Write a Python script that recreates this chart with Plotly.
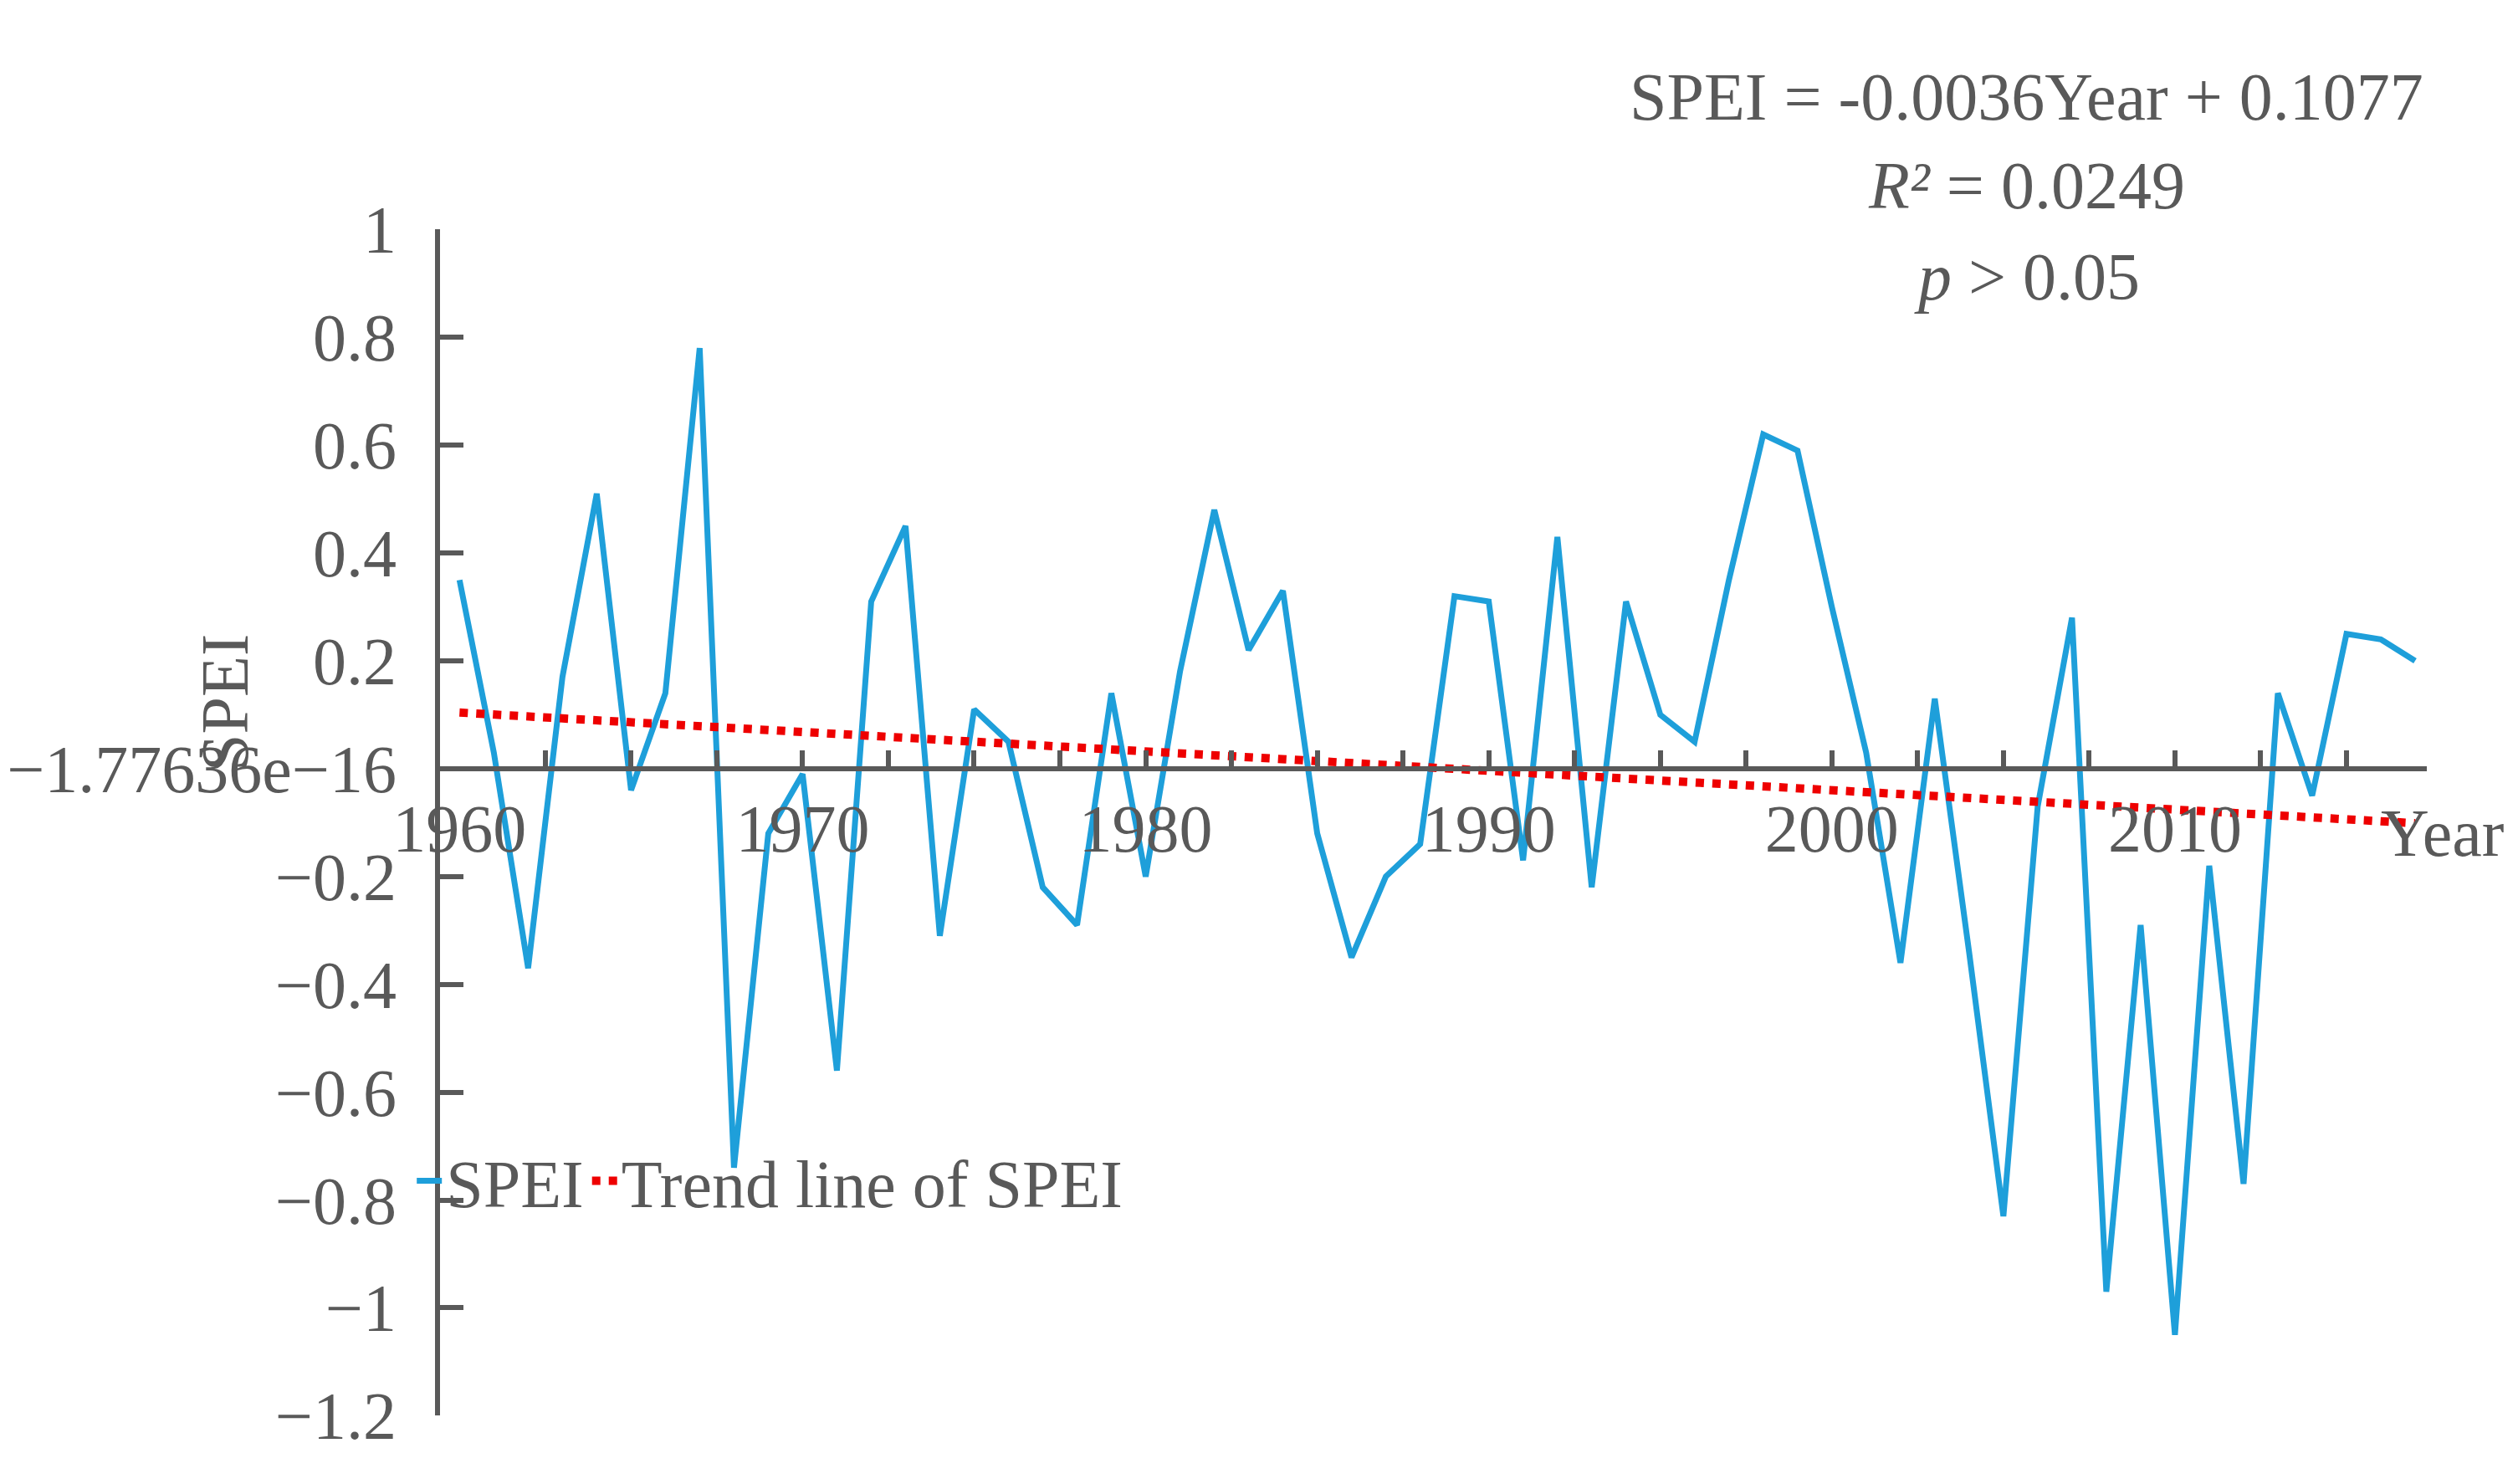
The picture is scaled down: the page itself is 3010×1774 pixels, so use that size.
import plotly.graph_objects as go

years = list(range(1960, 2018))
spei = [0.35, 0.03, -0.37, 0.17, 0.51, -0.04, 0.14, 0.78, -0.74, -0.12,
        -0.01, -0.56, 0.31, 0.45, -0.31, 0.11, 0.05, -0.22, -0.29, 0.14,
        -0.20, 0.18, 0.48, 0.22, 0.33, -0.12, -0.35, -0.20, -0.14, 0.32,
        0.31, -0.17, 0.43, -0.22, 0.31, 0.10, 0.05, 0.35, 0.62, 0.59,
        0.30, 0.03, -0.36, 0.13, -0.34, -0.83, -0.07, 0.28, -0.97, -0.29,
        -1.05, -0.18, -0.77, 0.14, -0.05, 0.25, 0.24, 0.20]
slope, intercept = -0.0036, 0.1077
trend = [slope * (i + 1) + intercept for i in range(len(years))]

gray = "#595959"
font = "Liberation Serif"
fs = 80

fig = go.Figure()
fig.add_trace(go.Scatter(x=years, y=spei, mode="lines", name="SPEI",
                         line=dict(color="#1E9FDA", width=7)))
fig.add_trace(go.Scatter(x=years, y=trend, mode="lines", name="Trend line of SPEI",
                         line=dict(color="#EE0000", width=10, dash="dot")))
fig.add_trace(go.Scatter(x=[1960], y=[0], xaxis="x2", mode="markers",
                         marker=dict(opacity=0), showlegend=False, hoverinfo="skip"))

ydom = [0.0265, 0.8675]
ypos0 = ydom[0] + (1.2 / 2.2) * (ydom[1] - ydom[0])
fig.update_layout(
    width=3010, height=1774, paper_bgcolor="white", plot_bgcolor="white",
    margin=dict(l=0, r=0, t=0, b=0),
    font=dict(family=font, size=fs, color=gray),
    xaxis=dict(domain=[0.1166, 0.9585], range=[1959.43, 2017.34], anchor="free",
               position=ypos0, showline=True, linecolor=gray, linewidth=6,
               tickvals=list(range(1960, 2020, 10)), ticks="", showgrid=False,
               zeroline=False, tickfont=dict(size=fs, color=gray)),
    xaxis2=dict(overlaying="x", matches="x", anchor="free", position=ypos0,
                tickvals=[1962.5 + 2.5 * k for k in range(23)], ticks="inside",
                ticklen=22, tickwidth=6, tickcolor=gray, showticklabels=False,
                showgrid=False, zeroline=False, domain=[0.1166, 0.9585]),
    yaxis=dict(domain=ydom, range=[-1.2, 1], dtick=0.2, showline=True,
               linecolor=gray, linewidth=6, ticks="inside", ticklen=28,
               tickwidth=6, tickcolor=gray, showgrid=False, zeroline=False,
               tickformat="~g", ticklabelstandoff=30,
               tickfont=dict(size=fs, color=gray)),
    showlegend=True,
    legend=dict(orientation="h", x=0.105, y=0.193, xanchor="left", yanchor="middle",
                font=dict(size=fs, color=gray), bgcolor="rgba(0,0,0,0)"),
)

ann = [
    ("SPEI = -0.0036Year + 0.1077", 68),
    ("<i>R²</i> = 0.0249", 180),
    ("<i>p</i> > 0.05", 295),
]
for txt, py in ann:
    fig.add_annotation(text=txt, x=2375 / 3010, y=1 - py / 1774, xref="paper", yref="paper",
                       showarrow=False, xanchor="center", yanchor="middle",
                       font=dict(size=fs, color=gray, family=font))
fig.add_annotation(text="Year", x=2905 / 3010, y=1 - 994 / 1774, xref="paper", yref="paper",
                   showarrow=False, xanchor="center", yanchor="middle",
                   font=dict(size=fs, color=gray, family=font))
fig.add_annotation(text="SPEI", x=77 / 3010, y=1 - 830 / 1774, xref="paper", yref="paper",
                   showarrow=False, textangle=-90, xanchor="center", yanchor="middle",
                   font=dict(size=fs, color=gray, family=font))

fig.write_html("out.html")
